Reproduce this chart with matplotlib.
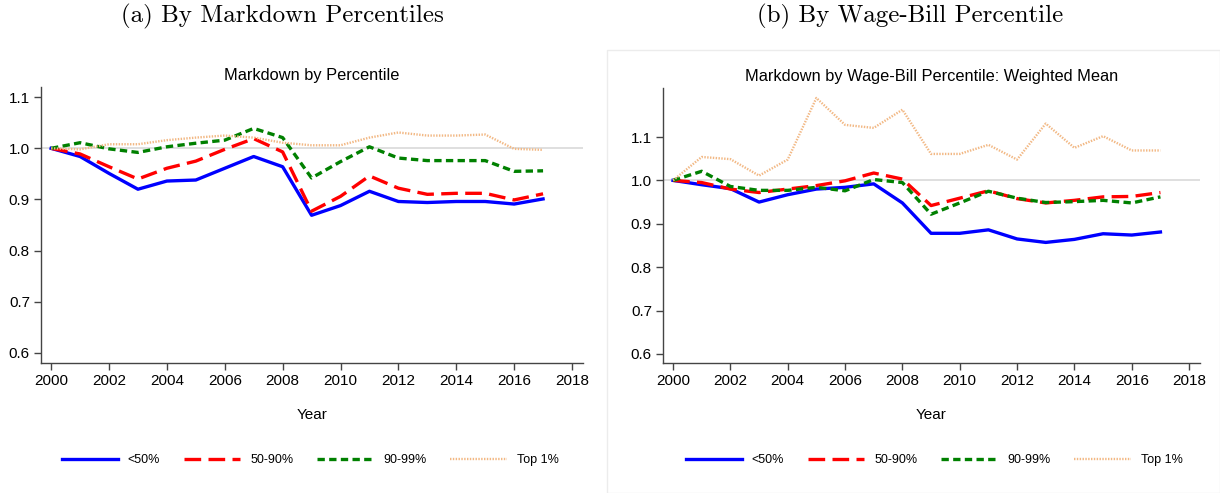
import matplotlib
matplotlib.use("Agg")
import matplotlib.pyplot as plt
from matplotlib.patches import Rectangle

years = list(range(2000, 2018))

# panel (a): markdown by markdown percentile
a_lt50 = [1.000, 0.984, 0.951, 0.920, 0.936, 0.938, 0.961, 0.984, 0.964, 0.869,
          0.888, 0.916, 0.896, 0.894, 0.896, 0.896, 0.891, 0.901]
a_50_90 = [1.000, 0.989, 0.964, 0.940, 0.961, 0.975, 0.998, 1.019, 0.993, 0.877,
           0.906, 0.946, 0.922, 0.910, 0.912, 0.912, 0.899, 0.911]
a_90_99 = [1.000, 1.011, 0.999, 0.992, 1.003, 1.010, 1.016, 1.039, 1.021, 0.942,
           0.974, 1.003, 0.981, 0.976, 0.976, 0.976, 0.955, 0.956]
a_top1 = [1.000, 0.998, 1.008, 1.008, 1.016, 1.021, 1.025, 1.021, 1.011, 1.006,
          1.006, 1.021, 1.031, 1.025, 1.025, 1.027, 0.999, 0.997]

# panel (b): markdown by wage-bill percentile, weighted mean
b_lt50 = [1.000, 0.990, 0.981, 0.950, 0.967, 0.980, 0.984, 0.992, 0.948, 0.878,
          0.878, 0.886, 0.865, 0.857, 0.864, 0.877, 0.874, 0.881]
b_50_90 = [1.000, 0.995, 0.980, 0.972, 0.980, 0.988, 0.999, 1.017, 1.003, 0.942,
           0.959, 0.976, 0.958, 0.948, 0.954, 0.962, 0.963, 0.972]
b_90_99 = [1.000, 1.021, 0.986, 0.977, 0.977, 0.984, 0.976, 1.002, 0.995, 0.922,
           0.948, 0.975, 0.959, 0.949, 0.951, 0.954, 0.948, 0.962]
b_top1 = [1.000, 1.054, 1.049, 1.011, 1.048, 1.190, 1.128, 1.121, 1.163, 1.061,
          1.061, 1.082, 1.048, 1.131, 1.075, 1.102, 1.069, 1.069]

labels = ["<50%", "50-90%", "90-99%", "Top 1%"]
styles = [
    dict(color="#0000ff", lw=2.4, ls="-"),
    dict(color="#ff0000", lw=2.4, ls=(0, (5, 2.2))),
    dict(color="#008000", lw=2.4, ls=(0, (2.2, 1.3))),
    dict(color="#f2b884", lw=1.7, ls=(0, (0.6, 0.6))),
]

plt.rcParams["font.family"] = ["Liberation Sans", "DejaVu Sans"]

fig = plt.figure(figsize=(12.2, 4.93), dpi=100)

# light frame around panel (b)
fig.patches.append(Rectangle((607 / 1220, 0), 1 - 607 / 1220, 1 - 50 / 493,
                             transform=fig.transFigure, fill=False,
                             edgecolor="#ececec", lw=1))

ax1 = fig.add_axes([41 / 1220, 1 - 363 / 493, (583 - 41) / 1220, (363 - 87) / 493])
ax2 = fig.add_axes([663 / 1220, 1 - 363 / 493, (1200 - 663) / 1220, (363 - 88) / 493])


def draw(ax, series, title, ylim):
    ax.axhline(1.0, color="#d9d9d9", lw=1.2, zorder=0)
    lines = []
    for s, lab, st in zip(series, labels, styles):
        ln, = ax.plot(years, s, label=lab, **st)
        lines.append(ln)
    ax.set_xlim(1999.65, 2018.38)
    ax.set_ylim(*ylim)
    ax.set_xticks(range(2000, 2019, 2))
    ax.set_yticks([0.6, 0.7, 0.8, 0.9, 1.0, 1.1])
    ax.set_yticklabels(["0.6", "0.7", "0.8", "0.9", "1.0", "1.1"])
    for side in ["top", "right"]:
        ax.spines[side].set_visible(False)
    for side in ["left", "bottom"]:
        ax.spines[side].set_color("#444444")
        ax.spines[side].set_linewidth(1.0)
    ax.tick_params(direction="out", length=5, width=1, color="#444444",
                   labelsize=11, pad=3)
    ax.set_title(title, fontsize=11.8, pad=5)
    ax.set_xlabel("Year", fontsize=11, labelpad=14)
    return lines


lines1 = draw(ax1, [a_lt50, a_50_90, a_90_99, a_top1], "Markdown by Percentile", (0.58, 1.12))
lines2 = draw(ax2, [b_lt50, b_50_90, b_90_99, b_top1],
              "Markdown by Wage-Bill Percentile: Weighted Mean", (0.579, 1.213))

for lines, cx in [(lines1, 310 / 1220), (lines2, 934 / 1220)]:
    fig.legend(lines, labels, loc="center", bbox_to_anchor=(cx, 1 - 460 / 493),
               ncol=4, frameon=False, fontsize=9, handlelength=4.5,
               columnspacing=1.9, handletextpad=0.8)

fig.text(282 / 1220, 1 - 16 / 493, "(a) By Markdown Percentiles", family="cmr10",
         fontsize=18, ha="center", va="center")
fig.text(910 / 1220, 1 - 16 / 493, "(b) By Wage-Bill Percentile", family="cmr10",
         fontsize=18, ha="center", va="center")

fig.savefig("out.png", dpi=100)
